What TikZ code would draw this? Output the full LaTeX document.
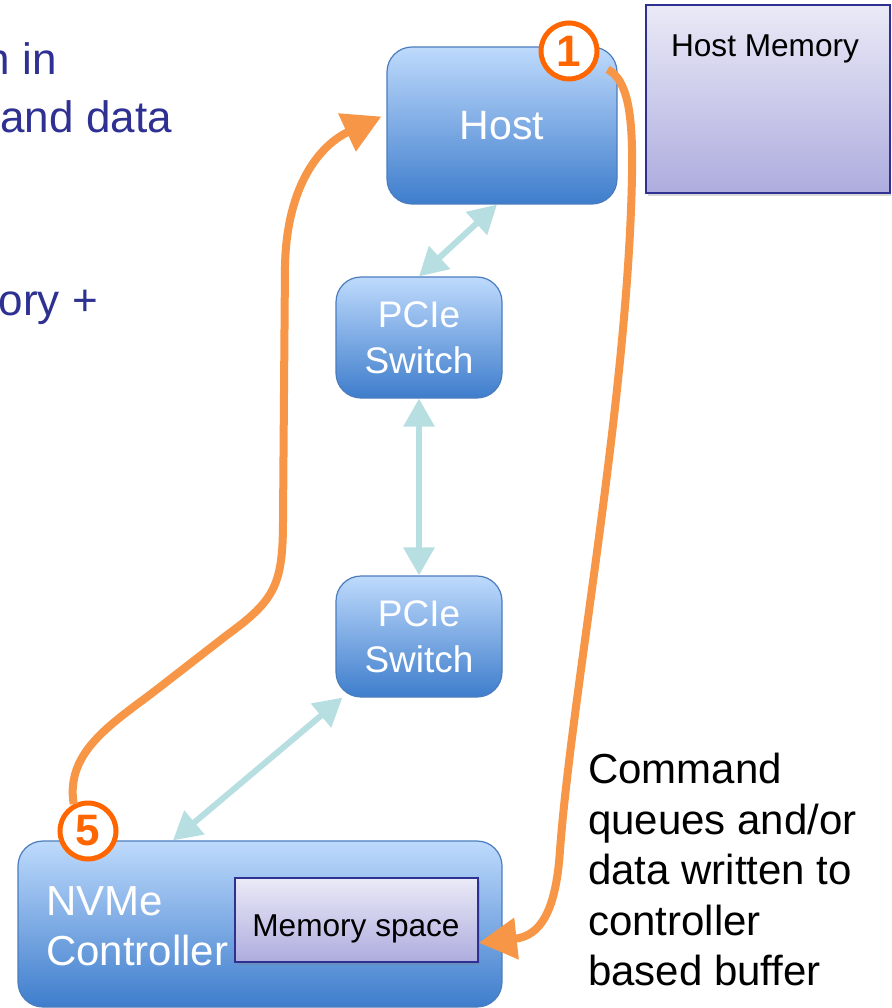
\documentclass[tikz,border=0pt]{standalone}
\usepackage{fontspec}
\setmainfont{Liberation Sans}
\usetikzlibrary{arrows.meta,calc,shadows}
\definecolor{navytext}{RGB}{46,49,146}
\definecolor{boxtop}{RGB}{190,218,252}
\definecolor{boxmid}{RGB}{140,175,230}
\definecolor{boxbot}{RGB}{62,125,204}
\definecolor{boxline}{RGB}{75,125,190}
\definecolor{memtop}{RGB}{234,234,247}
\definecolor{membot}{RGB}{174,172,222}
\definecolor{memline}{RGB}{46,49,146}
\definecolor{linkcyan}{RGB}{183,222,224}
\definecolor{flow}{RGB}{247,150,70}
\definecolor{stepnum}{RGB}{255,102,0}
\begin{document}
\begin{tikzpicture}[x=1pt,y=-1pt,
  bluebox/.style={draw=boxline, line width=1.2pt, rounded corners=25pt, top color=boxtop, bottom color=boxbot, text=white, inner sep=0pt, align=center},
  membox/.style={draw=memline, line width=1.8pt, top color=memtop, bottom color=membot, inner sep=0pt, drop shadow={opacity=0.3, shadow xshift=2pt, shadow yshift=-3pt}},
  link/.style={draw=linkcyan, line width=6pt, {Triangle[width=30pt,length=28pt]}-{Triangle[width=30pt,length=28pt]}},
  flowarrow/.style={draw=flow, line width=8pt, -{Triangle[width=40pt,length=38pt]}},
  stepcircle/.style={circle, draw=stepnum, line width=5pt, fill=white, minimum size=56pt, inner sep=0pt, text=stepnum, font=\fontsize{44}{44}\selectfont\bfseries},
  lefttext/.style={anchor=base east, text=navytext, inner sep=0pt, font=\fontsize{44}{44}\selectfont},
  plain/.style={inner sep=0pt}
]
\useasboundingbox (0,0) rectangle (891,1008);
\clip (0,0) rectangle (891,1008);
\fill[white] (0,0) rectangle (891,1008);

% left, cut-off text
\node[lefttext] (t1) at (57,75) {n in};
\node[lefttext] (t2) at (172,133) {and data};
\node[lefttext] (t3) at (98,315) {nory +};

% boxes
\node[bluebox, minimum width=230pt, minimum height=157pt, font=\fontsize{41}{41}\selectfont] (host) at (502,125.5) {Host};
\node[membox, minimum width=244pt, minimum height=188pt] (hostmem) at (768,99) {};
\node[plain, anchor=base, font=\fontsize{31.6}{32}\selectfont] (hostmemlabel) at (765,57) {Host Memory};

\node[bluebox, minimum width=166pt, minimum height=121pt, font=\fontsize{37}{46}\selectfont] (sw1) at (419,337.5) {PCIe\\Switch};
\node[bluebox, minimum width=166pt, minimum height=121pt, font=\fontsize{37}{46}\selectfont] (sw2) at (419,636.5) {PCIe\\Switch};

\node[bluebox, minimum width=484pt, minimum height=166pt] (nvme) at (260,924) {};
\node[plain, anchor=base west, text=white, font=\fontsize{42}{42}\selectfont] (nvmeA) at (46,915) {NVMe};
\node[plain, anchor=base west, text=white, font=\fontsize{42}{42}\selectfont] (nvmeB) at (46,965) {Controller};

\node[membox, line width=1.5pt, minimum width=243pt, minimum height=84pt] (memsp) at (356.5,920) {};
\node[plain, anchor=base, font=\fontsize{31.6}{32}\selectfont] (memsplabel) at (356,936) {Memory space};

% PCIe links
\draw[link] ([xshift=-5pt]host.south) -- (sw1.north);
\draw[link] (sw1.south) -- (sw2.north);
\draw[link] ([xshift=7pt]sw2.south west) -- ([xshift=-87pt]nvme.north);

% step circles
\node[stepcircle] (c1) at (569,51) {1};
\node[stepcircle] (c5) at (88,831) {5};

% flows
\draw[flowarrow] ($(host.north east)+(-10,23)$) .. controls (628,80) and (633,115) .. (632,175)
  .. controls (628,400) and (572,690) .. (560,850)
  .. controls (556,912) and (540,936) .. ($(memsp.south east)+(0,-20)$);
\draw[flowarrow] (c5.118) .. controls (65,750) and (115,722) .. (160,687) -- (227,635)
  .. controls (275,600) and (283,585) .. (283,520) -- (285,265)
  .. controls (287,185) and (320,145) .. ($(host.west)+(-5,-9)$);

% note
\node[plain, anchor=north west, align=left, font=\fontsize{42}{50.5}\selectfont] (note) at (588,753) {Command\\queues and/or\\data written to\\controller\\based buffer};
\end{tikzpicture}
\end{document}
